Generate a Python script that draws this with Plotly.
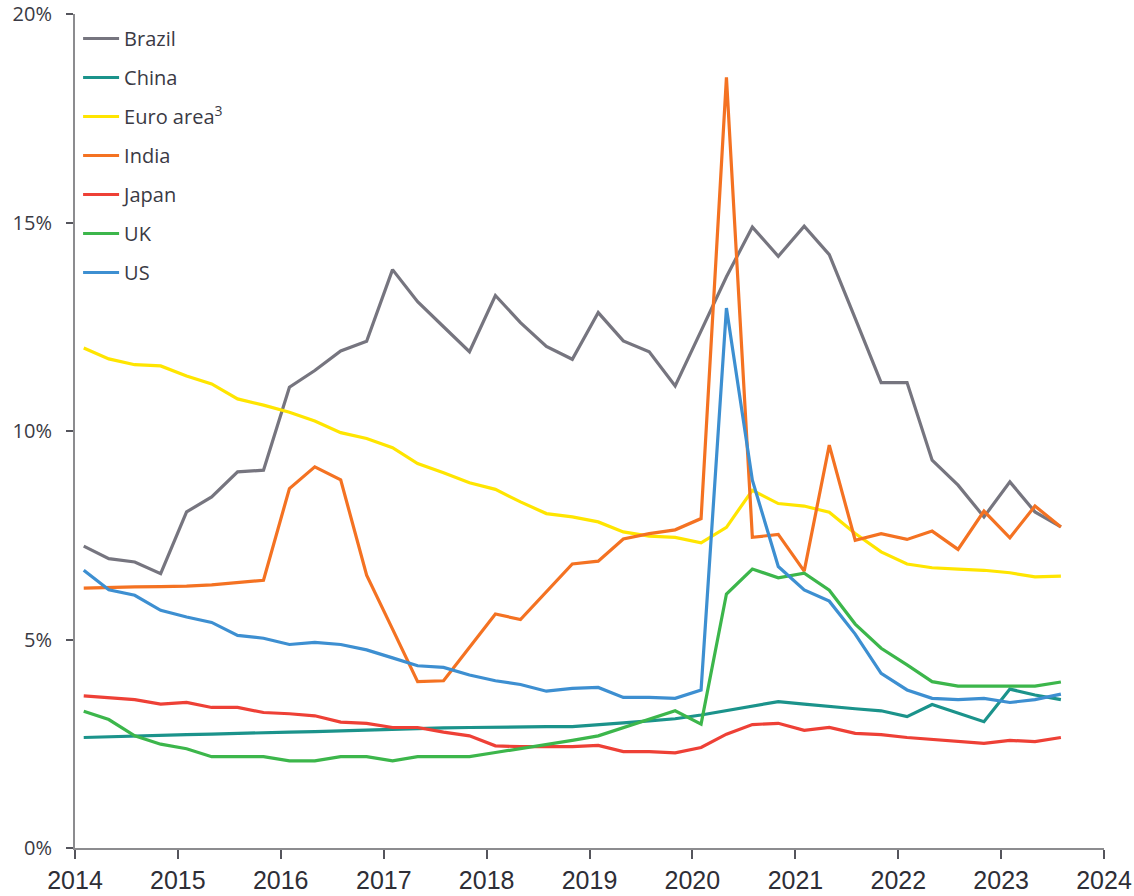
import pandas as pd
import plotly.graph_objects as go

# quarterly observations, plotted at the middle month of each quarter
dates = pd.date_range("2014-02-01", periods=39, freq="3MS")

brazil = [7.24, 6.94, 6.86, 6.58, 8.06, 8.42, 9.02, 9.06, 11.05, 11.45, 11.92, 12.15, 13.87,
          13.10, 12.50, 11.90, 13.25, 12.60, 12.03, 11.72, 12.84, 12.16, 11.90, 11.08, 12.40,
          13.70, 14.89, 14.19, 14.91, 14.23, 12.70, 11.16, 11.16, 9.30, 8.70, 7.94, 8.78, 8.06, 7.70]
china = [2.65, 2.67, 2.69, 2.70, 2.72, 2.73, 2.75, 2.76, 2.78, 2.79, 2.81, 2.83, 2.85,
         2.86, 2.88, 2.89, 2.90, 2.90, 2.91, 2.91, 2.95, 3.00, 3.05, 3.10, 3.19,
         3.30, 3.40, 3.51, 3.45, 3.39, 3.34, 3.29, 3.15, 3.44, 3.24, 3.03, 3.81, 3.67, 3.56]
euro_area = [11.99, 11.73, 11.59, 11.56, 11.32, 11.13, 10.77, 10.62, 10.45, 10.24, 9.96, 9.82, 9.60,
             9.22, 9.00, 8.76, 8.60, 8.30, 8.02, 7.94, 7.82, 7.58, 7.48, 7.45, 7.32,
             7.69, 8.58, 8.26, 8.20, 8.05, 7.54, 7.10, 6.81, 6.72, 6.69, 6.66, 6.60, 6.50, 6.52]
india = [6.23, 6.25, 6.26, 6.27, 6.28, 6.31, 6.36, 6.42, 8.62, 9.14, 8.83, 6.54, 5.25,
         3.99, 4.01, 4.80, 5.61, 5.48, 6.14, 6.81, 6.88, 7.41, 7.54, 7.63, 7.90,
         18.48, 7.45, 7.52, 6.64, 9.66, 7.38, 7.54, 7.40, 7.60, 7.16, 8.08, 7.44, 8.20, 7.70]
japan = [3.65, 3.61, 3.56, 3.45, 3.49, 3.37, 3.37, 3.25, 3.22, 3.17, 3.02, 2.99, 2.89,
         2.89, 2.78, 2.69, 2.45, 2.43, 2.43, 2.43, 2.46, 2.31, 2.31, 2.28, 2.41,
         2.73, 2.96, 2.99, 2.82, 2.89, 2.75, 2.72, 2.65, 2.60, 2.55, 2.51, 2.58, 2.55, 2.65]
uk = [3.28, 3.08, 2.69, 2.49, 2.38, 2.19, 2.19, 2.19, 2.09, 2.09, 2.19, 2.19, 2.09,
      2.19, 2.19, 2.19, 2.29, 2.38, 2.49, 2.58, 2.69, 2.89, 3.09, 3.29, 2.97,
      6.09, 6.69, 6.48, 6.59, 6.18, 5.37, 4.79, 4.39, 3.99, 3.88, 3.88, 3.88, 3.88, 3.98]
us = [6.66, 6.19, 6.06, 5.70, 5.54, 5.41, 5.10, 5.03, 4.88, 4.93, 4.88, 4.75, 4.56,
      4.37, 4.33, 4.15, 4.01, 3.92, 3.76, 3.83, 3.85, 3.61, 3.61, 3.59, 3.79,
      12.95, 8.82, 6.75, 6.19, 5.92, 5.13, 4.19, 3.79, 3.59, 3.56, 3.59, 3.49, 3.56, 3.69]

series = [
    ("Brazil", brazil, "#76757f"),
    ("China", china, "#1b938b"),
    ("Euro area<sup>3</sup>", euro_area, "#ffe500"),
    ("India", india, "#f47222"),
    ("Japan", japan, "#ee4036"),
    ("UK", uk, "#3cb64b"),
    ("US", us, "#3d8fd1"),
]

y_ticks = [0, 5, 10, 15, 20]
y_labels = ["0%", "5%", "10%", "15%", "20%"]

fig = go.Figure()
for name, values, color in series:
    fig.add_trace(
        go.Scatter(
            x=dates,
            y=values,
            mode="lines",
            name=name,
            legendgroup=name,
            line=dict(color=color, width=3.2),
        )
    )

fig.update_layout(
    width=1134,
    height=896,
    paper_bgcolor="white",
    plot_bgcolor="white",
    margin=dict(l=75, r=30, t=14, b=48, autoexpand=False),
    font=dict(family="Open Sans, Arial", size=20, color="#3a3a44"),
    legend=dict(
        x=0.003,
        y=0.994,
        xanchor="left",
        yanchor="top",
        itemwidth=36,
        tracegroupgap=10,
        bgcolor="rgba(0,0,0,0)",
        font=dict(family="Open Sans", size=20, color="#3a3a44"),
    ),
)
fig.update_xaxes(
    type="date",
    range=["2014-01-01", "2024-01-01"],
    dtick="M12",
    tickformat="%Y",
    automargin=False,
    showgrid=False,
    zeroline=False,
    showline=True,
    linecolor="#8c8c8f",
    linewidth=2,
    ticks="outside",
    ticklen=9,
    tickwidth=1.5,
    tickcolor="#55555c",
    tickfont=dict(family="Liberation Sans, Arial", size=25, color="#2e2e36"),
)
fig.update_yaxes(
    range=[0, 20],
    tickvals=y_ticks,
    ticktext=y_labels,
    automargin=False,
    showgrid=False,
    zeroline=False,
    showline=True,
    linecolor="#8c8c8f",
    linewidth=2,
    ticks="outside",
    ticklen=7,
    tickwidth=1.5,
    tickcolor="#55555c",
    ticklabelstandoff=10,
    tickfont=dict(family="Open Sans", size=20, color="#3a3a44"),
)

# drop the browser's default 8px body margin so the figure fills the window
fig.write_html(
    "out.html",
    config={"displayModeBar": False},
    post_script="document.body.style.margin = '0';",
)
